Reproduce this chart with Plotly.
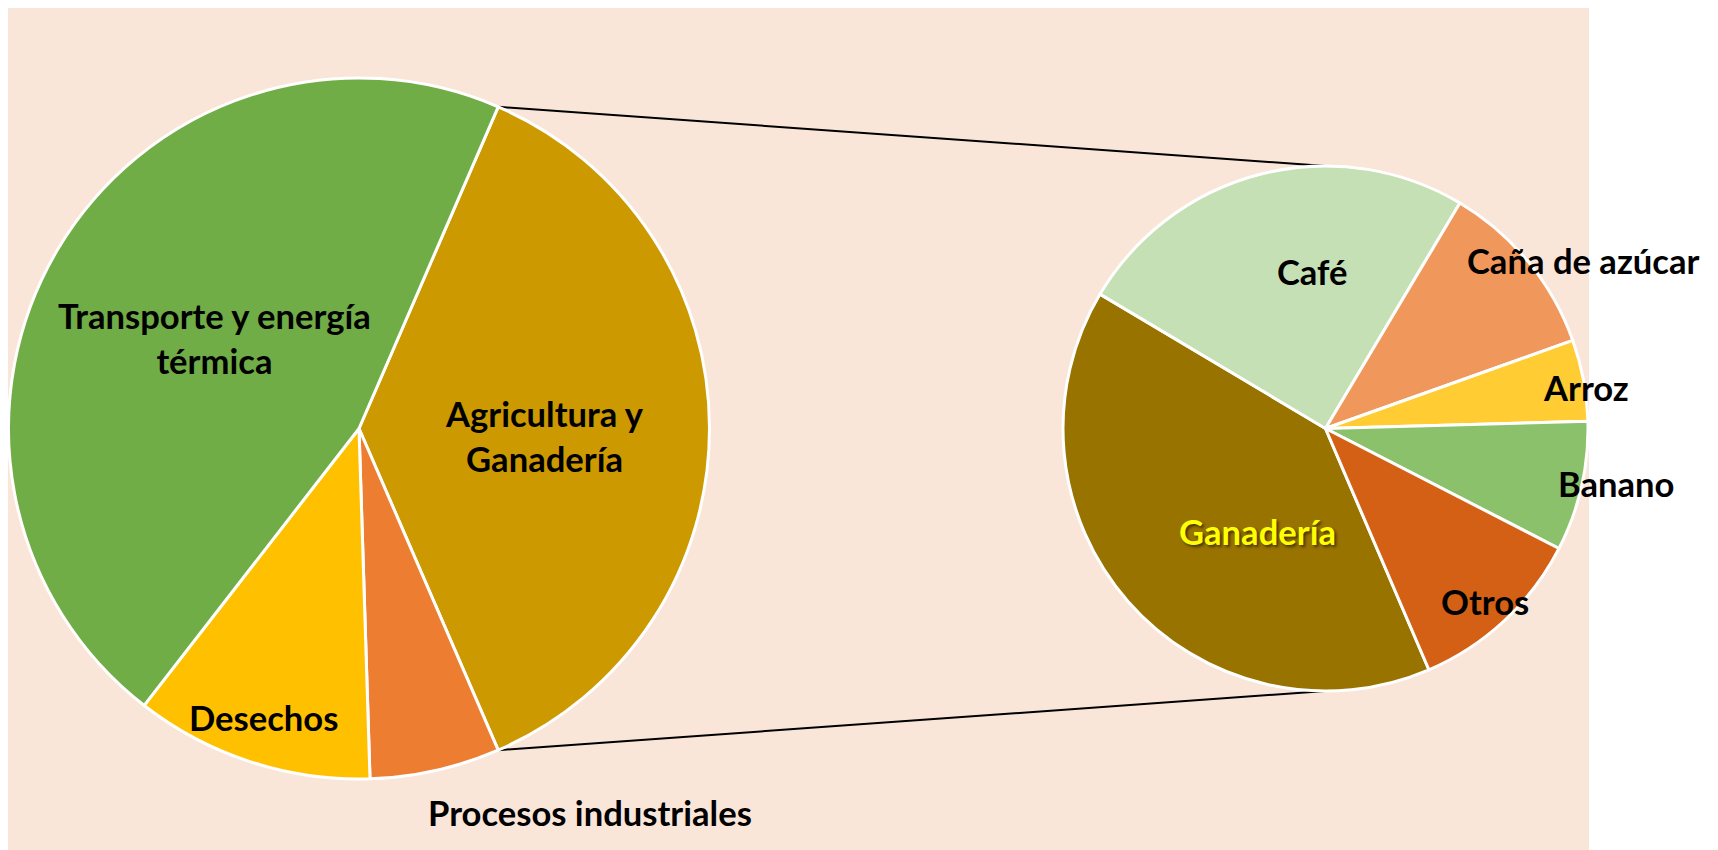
import math
import plotly.graph_objects as go

# ---------------- data ----------------
sector_labels = ["Agricultura y Ganadería", "Procesos industriales", "Desechos",
                 "Transporte y energía térmica"]
sector_values = [37, 6, 11, 46]

agri_labels = ["Ganadería", "Café", "Caña de azúcar", "Arroz", "Banano", "Otros"]
agri_values = [40, 25, 11, 5, 8, 11]

# ---------------- style ----------------
W, H = 1718, 850
OFF = 8  # page body margin compensation
sector_colors = ["#CC9900", "#ED7D31", "#FFC000", "#70AD47"]
agri_colors = ["#997300", "#C5E0B4", "#F0985C", "#FFCC33", "#8CC16B", "#D36015"]
panel_color = "#FAE5D9"
FONT = "Lato"
FS = 34.6

# geometry in pixels (as seen in the window)
L_CX, L_CY, L_R = 359.0, 428.5, 350.5
R_CX, R_CY, R_R = 1325.5, 428.5, 262.5
R_ROT = 156.8


def px(x):
    return (x - OFF) / W


def py(y):
    return 1 - (y - OFF) / H


def dom(cx, cy, r):
    return dict(x=[px(cx - r), px(cx + r)], y=[py(cy + r), py(cy - r)])


tot = sum(sector_values)
agri_frac = sector_values[0] / tot
l_rot = 90 - 180 * agri_frac  # split symmetric around 3 o'clock

fig = go.Figure()
fig.add_trace(go.Pie(
    labels=sector_labels, values=sector_values, sort=False, direction="clockwise",
    rotation=l_rot, domain=dom(L_CX, L_CY, L_R), textinfo="none", hoverinfo="label+percent",
    marker=dict(colors=sector_colors, line=dict(color="white", width=3)), showlegend=False,
))
fig.add_trace(go.Pie(
    labels=agri_labels, values=agri_values, sort=False, direction="clockwise",
    rotation=R_ROT, domain=dom(R_CX, R_CY, R_R), textinfo="none", hoverinfo="label+percent",
    marker=dict(colors=agri_colors, line=dict(color="white", width=3)), showlegend=False,
))

# connector lines from the edges of the "Agricultura" slice to top/bottom of second pie
a1 = math.radians(l_rot)
a2 = math.radians(l_rot + 360 * agri_frac)
p_top = (L_CX + L_R * math.sin(a1), L_CY - L_R * math.cos(a1))
p_bot = (L_CX + L_R * math.sin(a2), L_CY - L_R * math.cos(a2))
shapes = [
    dict(type="rect", xref="paper", yref="paper", x0=px(7), x1=px(1589), y0=py(860), y1=py(6),
         fillcolor=panel_color, line=dict(width=0), layer="below"),
    dict(type="line", xref="paper", yref="paper", x0=px(p_top[0]), y0=py(p_top[1]),
         x1=px(R_CX), y1=py(R_CY - R_R), line=dict(color="black", width=2), layer="below"),
    dict(type="line", xref="paper", yref="paper", x0=px(p_bot[0]), y0=py(p_bot[1]),
         x1=px(R_CX), y1=py(R_CY + R_R), line=dict(color="black", width=2), layer="below"),
]

# label placements (pixels) and colours
label_text = ["Transporte y energía<br>térmica", "Agricultura y<br>Ganadería", "Desechos",
              "Procesos industriales", "Café", "Caña de azúcar", "Arroz", "Banano",
              "Ganadería", "Otros"]
label_pos = [(214, 338), (544, 436), (263.5, 717.5), (590, 812), (1312, 272),
             (1583.5, 260.5), (1586, 388), (1616, 483), (1257, 531), (1484.7, 601)]
label_color = ["black"] * 8 + ["#FFFF00", "black"]

annotations = []
for t, (x, y), c in zip(label_text, label_pos, label_color):
    f = dict(family=FONT, size=FS, color=c, weight=700)
    if c != "black":
        f["shadow"] = "2px 2px 3px rgba(0,0,0,0.55)"
    annotations.append(dict(text=t, x=px(x), y=py(y), xref="paper", yref="paper",
                            xanchor="center", yanchor="middle", showarrow=False,
                            font=f, align="center"))

fig.update_layout(
    width=W, height=H, margin=dict(l=0, r=0, t=0, b=0),
    paper_bgcolor="white", plot_bgcolor="white",
    shapes=shapes, annotations=annotations,
    xaxis=dict(visible=False), yaxis=dict(visible=False),
)
fig.write_html("out.html")
